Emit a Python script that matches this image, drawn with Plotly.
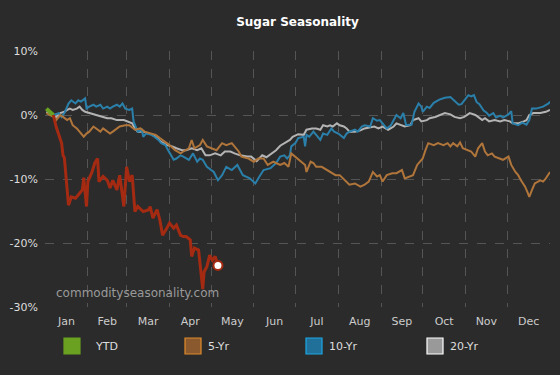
import pandas as pd
import plotly.graph_objects as go

# ---------------- data (day of year, % change) ----------------
ytd_days = [1, 6, 8, 12, 13, 14, 16, 17, 19, 22, 24, 27, 28, 30, 31, 34, 36, 38, 39, 42, 45, 47, 49, 52, 54,
            57, 59, 61, 63, 65, 67, 71, 75, 76, 78, 81, 83, 85, 88, 90, 93, 95, 98, 100, 102, 105, 106, 108,
            111, 114, 115, 117, 119, 121, 123, 125]
ytd_vals = [1.0, 0.0, -1.8, -4.4, -6.3, -6.7, -11.2, -14.1, -12.8, -13.0, -12.5, -11.7, -9.8, -14.3, -10.4,
            -8.9, -7.5, -6.8, -10.4, -9.6, -10.2, -11.4, -10.2, -11.7, -9.4, -14.3, -8.1, -10.4, -9.4, -15.1,
            -14.3, -15.1, -14.8, -14.3, -16.1, -14.8, -16.4, -18.8, -17.7, -16.9, -17.7, -17.2, -18.8, -19.0,
            -19.0, -19.5, -22.1, -20.8, -21.1, -27.2, -24.5, -23.7, -21.9, -22.7, -22.1, -23.5]

yr5_days = [1, 4, 6, 8, 11, 13, 16, 18, 20, 23, 25, 28, 30, 32, 35, 37, 40, 42, 45, 47, 49, 52,
            54, 58, 61, 65, 69, 72, 76, 80, 83, 87, 90, 94, 98, 100, 104, 106, 108, 112,
            114, 117, 120, 124, 128, 131, 135, 137, 140, 142, 147, 151, 154, 158, 161, 165,
            170, 173, 176, 178, 181, 184, 188, 189, 192, 194, 196, 200, 204, 207, 210, 213, 217, 220, 224,
            228, 231, 234, 237, 240, 242, 244, 247, 251, 254, 258, 260, 263, 266, 269, 271, 273, 275, 277,
            281, 284, 288, 291, 293, 295, 298, 300, 302, 306, 308, 311, 313, 316, 318, 320, 323, 325, 328,
            331, 335, 337, 340, 342, 344, 347, 349, 350, 352, 354, 358, 360, 362, 365]
yr5_vals = [0.3, 0.0, -0.3, -0.8, 0.0, -0.3, -0.8, -0.5, -1.6, -2.1, -2.6, -3.4, -2.9, -2.6, -1.8, -2.1,
            -2.6, -2.1, -2.6, -2.9, -2.6, -2.1,
            -1.8, -1.6, -1.6, -2.3, -2.1, -2.6, -2.9, -3.1, -3.6, -4.2, -4.7, -5.5, -6.0, -5.7, -5.2, -3.9,
            -5.2, -4.7,
            -3.9, -4.9, -5.2, -5.5, -4.4, -4.7, -4.4, -4.9, -5.7, -6.5, -6.8, -7.3, -6.8, -6.8, -7.8, -7.3,
            -7.8, -7.5, -8.1, -6.0, -6.5, -7.0, -7.8, -8.9, -7.3, -7.5, -8.1, -8.1, -8.6, -8.9, -9.4, -9.4,
            -10.2, -10.9, -10.7, -11.2, -10.9, -10.4, -8.9, -9.6, -9.4, -10.4, -9.4, -9.1, -9.1, -8.6, -9.9,
            -9.6, -9.4, -7.8, -7.3, -6.8, -5.5, -4.4, -4.7, -4.4, -4.7, -4.4, -4.9, -4.4, -4.9, -4.3, -5.2,
            -5.5, -5.7, -6.5, -5.2, -4.4, -5.7, -6.3, -6.0, -6.5, -6.8, -7.0, -6.5, -7.8, -8.9, -9.4, -10.2,
            -11.2, -12.2, -12.8, -11.7, -10.7, -10.2, -10.4, -9.9, -8.9]

yr10_days = [2, 6, 10, 12, 14, 17, 19, 22, 24, 26, 29, 30, 32, 35, 37, 40, 42, 45, 47, 49, 52, 54, 56, 58,
             61, 63, 64, 66, 67, 70, 71, 73, 77, 79, 82, 84, 87, 89, 93, 95, 98, 100, 102, 104, 107, 110,
             112, 114, 117, 122, 125, 128, 131, 135, 139, 143, 148, 152, 155, 158, 163, 167, 170, 173, 175,
             177, 178, 181, 183, 187, 188, 189, 191, 194, 196, 199, 201, 204, 207, 209, 212, 216, 218, 220,
             224, 226, 229, 231, 235, 237, 240, 242, 247, 250, 254, 257, 259, 261, 265, 267, 270, 272, 273,
             276, 278, 281, 285, 289, 293, 296, 299, 301, 304, 306, 308, 310, 312, 314, 317, 319, 321, 324,
             326, 329, 331, 335, 337, 338, 342, 345, 348, 350, 352, 355, 360, 364, 365]
yr10_vals = [0.3, 0.0, 0.3, -0.3, 0.3, 1.8, 2.3, 1.8, 2.3, 2.1, 2.6, 1.0, 1.3, 1.6, 1.3, 1.6, 1.0, 1.3, 1.0,
             1.3, 1.6, 1.3, 1.8, 1.0, 0.8, 1.0, -1.0, -2.1, -2.6, -2.3, -3.4, -2.9, -3.1, -3.4, -3.9, -4.4,
             -4.7, -5.5, -7.0, -6.8, -6.3, -6.5, -6.8, -7.0, -6.0, -7.3, -6.8, -7.0, -8.1, -8.9, -10.2, -9.4,
             -8.1, -8.6, -7.8, -9.4, -9.9, -10.7, -9.6, -8.6, -8.3, -7.5, -6.5, -6.3, -6.8, -6.3, -4.9, -4.4,
             -3.6, -3.4, -4.9, -3.1, -3.4, -2.6, -3.1, -3.9, -2.9, -3.1, -2.1, -2.6, -2.9, -3.6, -2.9, -2.6,
             -2.3, -2.6, -1.8, -1.6, -1.8, -0.5, -0.9, -0.8, -2.1, -1.6, 0.0, -0.5, 0.3, -1.6, -1.5, 0.5, 1.8,
             1.3, 0.5, 1.3, 1.1, 1.9, 2.4, 2.7, 2.8, 2.2, 1.6, 1.7, 2.5, 3.1, 2.9, 3.1, 2.0, 1.7, 0.7, 0.4,
             -0.1, 0.3, -0.4, -0.1, -0.4, 0.1, 0.6, -1.3, -1.6, -1.2, -1.5, -0.8, 1.0, 1.0, 1.3, 1.8, 2.1]

yr20_days = [1, 5, 8, 11, 14, 16, 18, 20, 23, 25, 27, 29, 32, 36, 40, 45, 48, 52, 57, 60, 63, 65, 67, 71,
             75, 78, 81, 84, 88, 92, 95, 99, 102, 106, 110, 113, 116, 119, 123, 127, 130, 134, 137, 141, 146,
             149, 153, 157, 160, 164, 167, 170, 173, 177, 179, 183, 187, 189, 193, 196, 199, 201, 204, 206,
             208, 211, 213, 216, 218, 220, 224, 228, 231, 235, 238, 241, 244, 248, 252, 254, 258, 260, 264,
             266, 270, 272, 276, 278, 282, 285, 289, 293, 296, 300, 303, 307, 311, 313, 316, 318, 321, 325,
             329, 332, 336, 338, 342, 346, 348, 350, 353, 358, 362, 365]
yr20_vals = [0.5, 0.0, -0.3, 0.3, 0.5, 0.8, 1.0, 0.8, 1.0, 1.3, 0.8, 0.5, 0.3, 0.0, -0.2, -0.5, -0.5, -0.8,
             -0.8, -1.0, -1.3, -2.1, -2.6, -2.6, -2.9, -3.1, -3.6, -4.2, -4.7, -4.9, -5.2, -5.5, -5.5, -5.2,
             -5.5, -5.2, -6.3, -6.3, -6.0, -6.3, -5.7, -5.7, -6.0, -6.3, -6.5, -6.5, -7.2, -6.3, -6.6, -6.0,
             -5.5, -4.8, -4.4, -3.9, -3.4, -3.0, -3.1, -2.3, -2.1, -2.1, -2.3, -1.6, -1.8, -1.6, -1.8, -1.3,
             -1.6, -1.8, -2.1, -2.6, -2.6, -2.4, -2.1, -1.9, -1.8, -2.1, -1.8, -2.3, -1.8, -1.3, -1.6, -1.8,
             -1.6, -0.8, -0.5, -1.0, -0.8, -0.5, -0.3, 0.0, 0.3, 0.1, -0.3, -0.5, -0.3, 0.3, 0.0, -0.3, -0.8,
             -0.5, -1.0, -0.8, -1.0, -0.8, -1.0, -1.3, -1.3, -1.0, -0.8, 0.0, 0.3, 0.3, 0.5, 0.8]

legend_names = ["YTD", "5-Yr", "10-Yr", "20-Yr"]
y_ticks = [-30, -20, -10, 0, 10]
y_tick_labels = ["-30%", "-20%", "-10%", "0%", "10%"]
year_start = "2023-01-01"
year_end = "2024-01-01"

# ---------------- helpers ----------------
base = pd.Timestamp(year_start)


def to_dates(days):
    return base + pd.to_timedelta(days, unit="D")


W, H = 560, 375
L, R, T, B = 45, 10, 51, 68
PW, PH = W - L - R, H - T - B


def px_x(px):
    return (px - L) / PW


def px_y(py):
    return (H - B - py) / PH


BG = "#2b2b2b"
C_RED = "#a52a12"
C_GREEN = "#6aa121"
C_5 = "#b0753a"
C_10 = "#2a80aa"
C_20 = "#b4b4b4"
FONT = "DejaVu Sans"

fig = go.Figure()

fig.add_trace(go.Scatter(x=to_dates(yr20_days), y=yr20_vals, mode="lines",
                         line=dict(color=C_20, width=2), name="20-Yr", showlegend=False))
fig.add_trace(go.Scatter(x=to_dates(yr10_days), y=yr10_vals, mode="lines",
                         line=dict(color=C_10, width=2), name="10-Yr", showlegend=False))
fig.add_trace(go.Scatter(x=to_dates(yr5_days), y=yr5_vals, mode="lines",
                         line=dict(color=C_5, width=2), name="5-Yr", showlegend=False))
# YTD: positive part green, negative part red
fig.add_trace(go.Scatter(x=to_dates(ytd_days[:2]), y=ytd_vals[:2], mode="lines",
                         line=dict(color=C_GREEN, width=4), showlegend=False))
fig.add_trace(go.Scatter(x=to_dates(ytd_days[1:]), y=ytd_vals[1:], mode="lines",
                         line=dict(color=C_RED, width=3), name="YTD", showlegend=False))
fig.add_trace(go.Scatter(x=to_dates(ytd_days[-1:]), y=ytd_vals[-1:], mode="markers",
                         marker=dict(size=9, color="white", line=dict(color=C_RED, width=2)),
                         showlegend=False))

# legend drawn manually
leg_sq = [(64, C_GREEN, C_GREEN, 93), (185, "#8a5a2e", "#e08a2a", 206),
          (306, "#21709a", "#1ca7e6", 327), (427, "#999999", "#ffffff", 448)]
shapes = []
annotations = []
for (sx, fill, border, tx), name in zip(leg_sq, legend_names):
    shapes.append(dict(type="rect", xref="paper", yref="paper",
                       x0=px_x(sx), x1=px_x(sx + 16), y0=px_y(354), y1=px_y(338),
                       fillcolor=fill, line=dict(color=border, width=1.2)))
    annotations.append(dict(x=px_x(tx), y=px_y(346), xref="paper", yref="paper",
                            text=name, showarrow=False, xanchor="left", yanchor="middle",
                            font=dict(family=FONT, size=11, color="#dddddd")))

annotations.append(dict(x=px_x(54), y=px_y(293), xref="paper", yref="paper",
                        text="commodityseasonality.com", showarrow=False,
                        xanchor="left", yanchor="middle",
                        font=dict(family=FONT, size=12, color="#9a9a9a")))

fig.update_layout(
    width=W, height=H,
    margin=dict(l=L, r=R, t=T, b=B),
    paper_bgcolor=BG, plot_bgcolor=BG,
    title=dict(text="<b>Sugar Seasonality</b>", x=0.5, xref="paper", y=1 - 22 / H,
               yref="container", yanchor="middle", automargin=False,
               font=dict(family=FONT, size=12, color="#ffffff")),
    shapes=shapes, annotations=annotations,
    showlegend=False,
    xaxis=dict(type="date", range=[year_start, year_end], dtick="M1", tick0=year_start,
               tickformat="%b", ticklabelmode="period", showgrid=True, automargin=False,
               gridcolor="#555555", griddash="dash", gridwidth=1, zeroline=False,
               showline=False, ticks="", ticklabelstandoff=6,
               tickfont=dict(family=FONT, size=11, color="#cccccc")),
    yaxis=dict(range=[-30, 10], tickvals=y_ticks, ticktext=y_tick_labels, showgrid=True,
               automargin=False,
               gridcolor="#555555", griddash="dash", gridwidth=1, zeroline=False,
               showline=False, ticks="", ticklabelstandoff=6,
               tickfont=dict(family=FONT, size=11, color="#dddddd")),
)

fig.write_html("out.html", config={"displayModeBar": False},
               post_script="document.body.style.margin='0';document.body.style.background='#2b2b2b';")
